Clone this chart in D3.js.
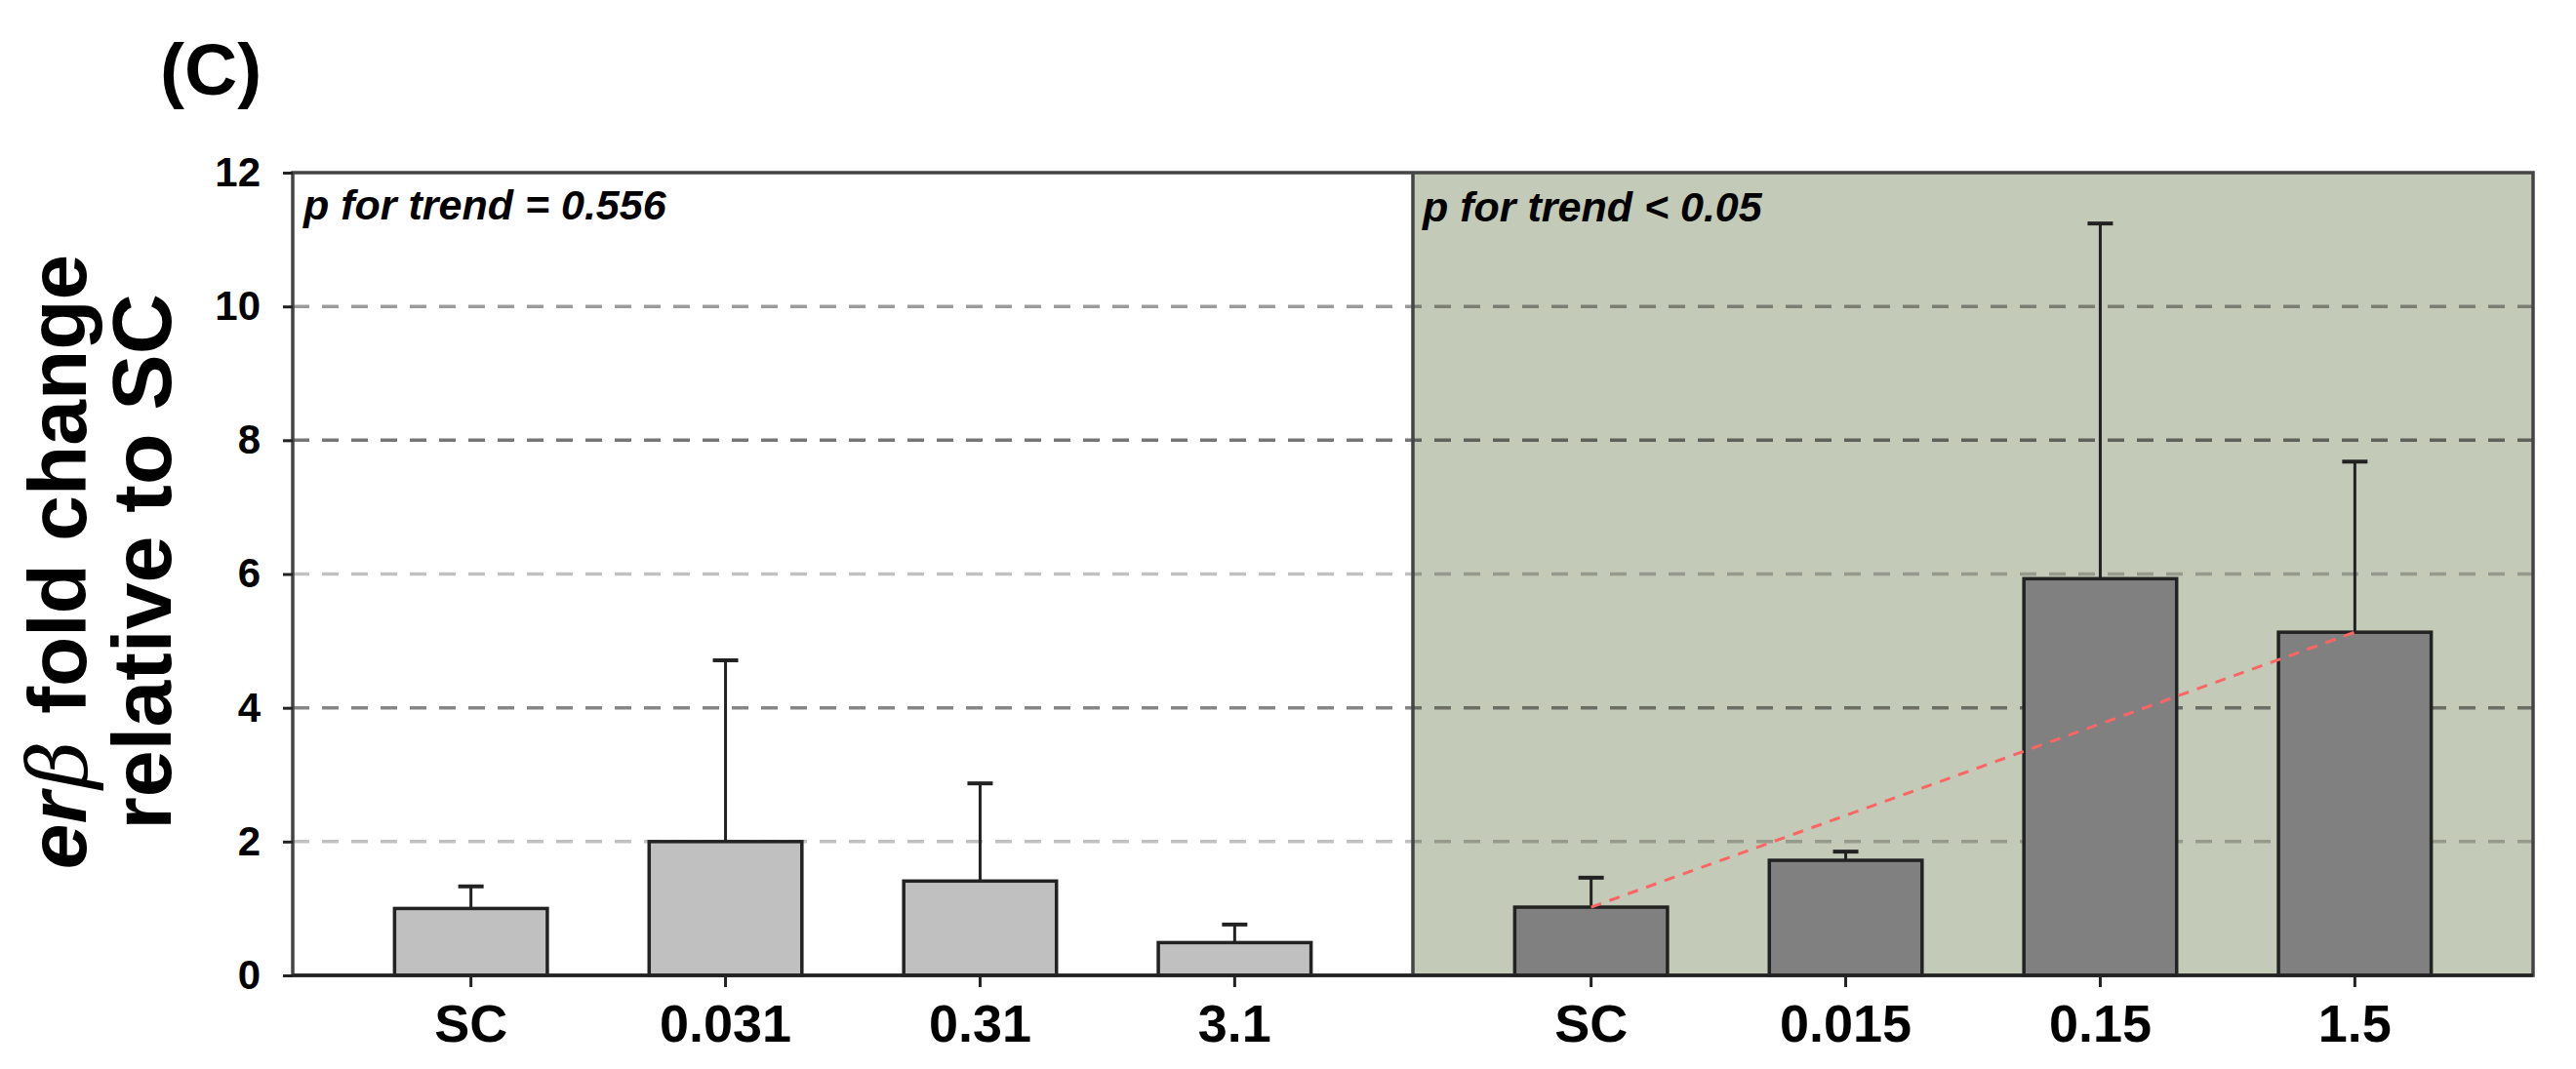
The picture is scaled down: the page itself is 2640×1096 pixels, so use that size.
<!DOCTYPE html>
<html>
<head>
<meta charset="utf-8">
<script src="https://cdn.jsdelivr.net/npm/d3@7"></script>
<style>
  body { margin: 0; background: #fff; }
  text { font-family: "Liberation Sans", Arial, sans-serif; font-weight: bold; }
</style>
</head>
<body>
<svg id="chart" width="2640" height="1096"></svg>
<script>
// values
var leftGroups = ["SC", "0.031", "0.31", "3.1"];
var leftMeans = [1.0, 2.0, 1.41, 0.49];
var leftSD = [0.33, 2.71, 1.46, 0.27];

var rightGroups = ["SC", "0.015", "0.15", "1.5"];
var rightMeans = [1.02, 1.72, 5.93, 5.13];
var rightSD = [0.44, 0.13, 5.31, 2.55];

var yTicks = [0, 2, 4, 6, 8, 10, 12];
var gridTicks = [2, 4, 6, 8, 10];
var trendLabels = ["p for trend = 0.556", "p for trend < 0.05"];

var svg = d3.select("#chart");
var margin = { top: 177, left: 300, bottom: 96, right: 44 };
var width = 2640 - margin.left - margin.right;
var height = 1096 - margin.top - margin.bottom;
var mid = margin.left + width / 2;

var y = d3.scaleLinear().domain([0, 12]).range([margin.top + height, margin.top]);

var xL = d3.scaleBand().domain(leftGroups)
  .range([margin.left, mid]).paddingInner(0.4).paddingOuter(0.4);
var xR = d3.scaleBand().domain(rightGroups)
  .range([mid, margin.left + width]).paddingInner(0.4).paddingOuter(0.4);

// shaded right panel
svg.append("rect")
  .attr("x", mid).attr("y", y(12))
  .attr("width", margin.left + width - mid).attr("height", y(0) - y(12))
  .attr("fill", "#c3cab7");

// dashed grid lines
var gridOpacity = { 2: 0.28, 4: 0.55, 6: 0.28, 8: 0.62, 10: 0.45 };
svg.append("g").selectAll("line")
  .data(gridTicks)
  .join("line")
  .attr("x1", margin.left).attr("x2", margin.left + width)
  .attr("y1", d => y(d)).attr("y2", d => y(d))
  .attr("stroke", "#222")
  .attr("stroke-opacity", d => gridOpacity[d])
  .attr("stroke-width", 3.5)
  .attr("stroke-dasharray", "17,13");

function drawGroup(x, groups, means, sd, fill) {
  var data = groups.map((g, i) => ({ g: g, m: means[i], sd: sd[i] }));
  var g = svg.append("g");
  var cx = d => x(d.g) + x.bandwidth() / 2;

  g.selectAll("line.err")
    .data(data)
    .join("line")
    .attr("class", "err")
    .attr("x1", cx).attr("x2", cx)
    .attr("y1", d => y(d.m)).attr("y2", d => y(d.m + d.sd))
    .attr("stroke", "#222").attr("stroke-width", 3);

  g.selectAll("line.cap")
    .data(data)
    .join("line")
    .attr("class", "cap")
    .attr("x1", d => cx(d) - 13).attr("x2", d => cx(d) + 13)
    .attr("y1", d => y(d.m + d.sd)).attr("y2", d => y(d.m + d.sd))
    .attr("stroke", "#222").attr("stroke-width", 4);

  g.selectAll("rect")
    .data(data)
    .join("rect")
    .attr("x", d => x(d.g))
    .attr("y", d => y(d.m))
    .attr("width", x.bandwidth())
    .attr("height", d => y(0) - y(d.m))
    .attr("fill", fill)
    .attr("stroke", "#222")
    .attr("stroke-width", 3.5);

  var ax = svg.append("g")
    .attr("transform", `translate(0,${y(0)})`)
    .call(d3.axisBottom(x).tickSize(12).tickPadding(18).tickSizeOuter(0));
  ax.select(".domain").remove();
  ax.selectAll(".tick line").attr("stroke", "#222").attr("stroke-width", 3);
  ax.selectAll(".tick text")
    .attr("font-size", 54)
    .attr("fill", "#000")
    .attr("font-family", "Liberation Sans, Arial, sans-serif")
    .attr("font-weight", "bold");
}

drawGroup(xL, leftGroups, leftMeans, leftSD, "#c0c0c0");
drawGroup(xR, rightGroups, rightMeans, rightSD, "#808080");

// trend line across the right panel bar tops
var n = rightGroups.length - 1;
svg.append("line")
  .attr("x1", xR(rightGroups[0]) + xR.bandwidth() / 2)
  .attr("y1", y(rightMeans[0]))
  .attr("x2", xR(rightGroups[n]) + xR.bandwidth() / 2)
  .attr("y2", y(rightMeans[n]))
  .attr("stroke", "#ff6464")
  .attr("stroke-width", 3)
  .attr("stroke-dasharray", "11,9");

// frame
svg.append("rect")
  .attr("x", margin.left).attr("y", y(12))
  .attr("width", width).attr("height", y(0) - y(12))
  .attr("fill", "none").attr("stroke", "#444").attr("stroke-width", 3.5);
svg.append("line")
  .attr("x1", mid).attr("x2", mid)
  .attr("y1", y(12)).attr("y2", y(0))
  .attr("stroke", "#444").attr("stroke-width", 3.5);
svg.append("line")
  .attr("x1", margin.left).attr("x2", margin.left + width)
  .attr("y1", y(0)).attr("y2", y(0))
  .attr("stroke", "#222").attr("stroke-width", 3.5);

// y axis
var yAxis = svg.append("g")
  .attr("transform", `translate(${margin.left},0)`)
  .call(d3.axisLeft(y).tickValues(yTicks).tickSize(10).tickPadding(23).tickSizeOuter(0));
yAxis.select(".domain").remove();
yAxis.selectAll(".tick line").attr("stroke", "#222").attr("stroke-width", 3);
yAxis.selectAll(".tick text")
  .attr("font-size", 42)
  .attr("fill", "#000")
  .attr("font-family", "Liberation Sans, Arial, sans-serif")
  .attr("font-weight", "bold");

// p for trend labels
svg.append("text")
  .attr("x", margin.left + 11).attr("y", 225)
  .attr("font-size", 43).attr("font-style", "italic")
  .text(trendLabels[0]);
svg.append("text")
  .attr("x", mid + 10).attr("y", 227)
  .attr("font-size", 43).attr("font-style", "italic")
  .text(trendLabels[1]);

// panel letter
svg.append("text")
  .attr("x", 164).attr("y", 97)
  .attr("font-size", 75)
  .text("(C)");

// y axis title
var cy = 576;
var t1 = svg.append("text")
  .attr("transform", `translate(88,${cy}) rotate(-90)`)
  .attr("text-anchor", "middle")
  .attr("font-size", 84);
t1.append("tspan").attr("font-style", "italic").text("er");
t1.append("tspan").attr("font-style", "italic").attr("font-family", "DejaVu Serif, serif")
  .attr("font-weight", "normal").attr("dx", 4).text("β");
t1.append("tspan").attr("dx", 4).text(" fold change");

svg.append("text")
  .attr("transform", `translate(175,${cy}) rotate(-90)`)
  .attr("text-anchor", "middle")
  .attr("font-size", 86)
  .text("relative to SC");
</script>
</body>
</html>
